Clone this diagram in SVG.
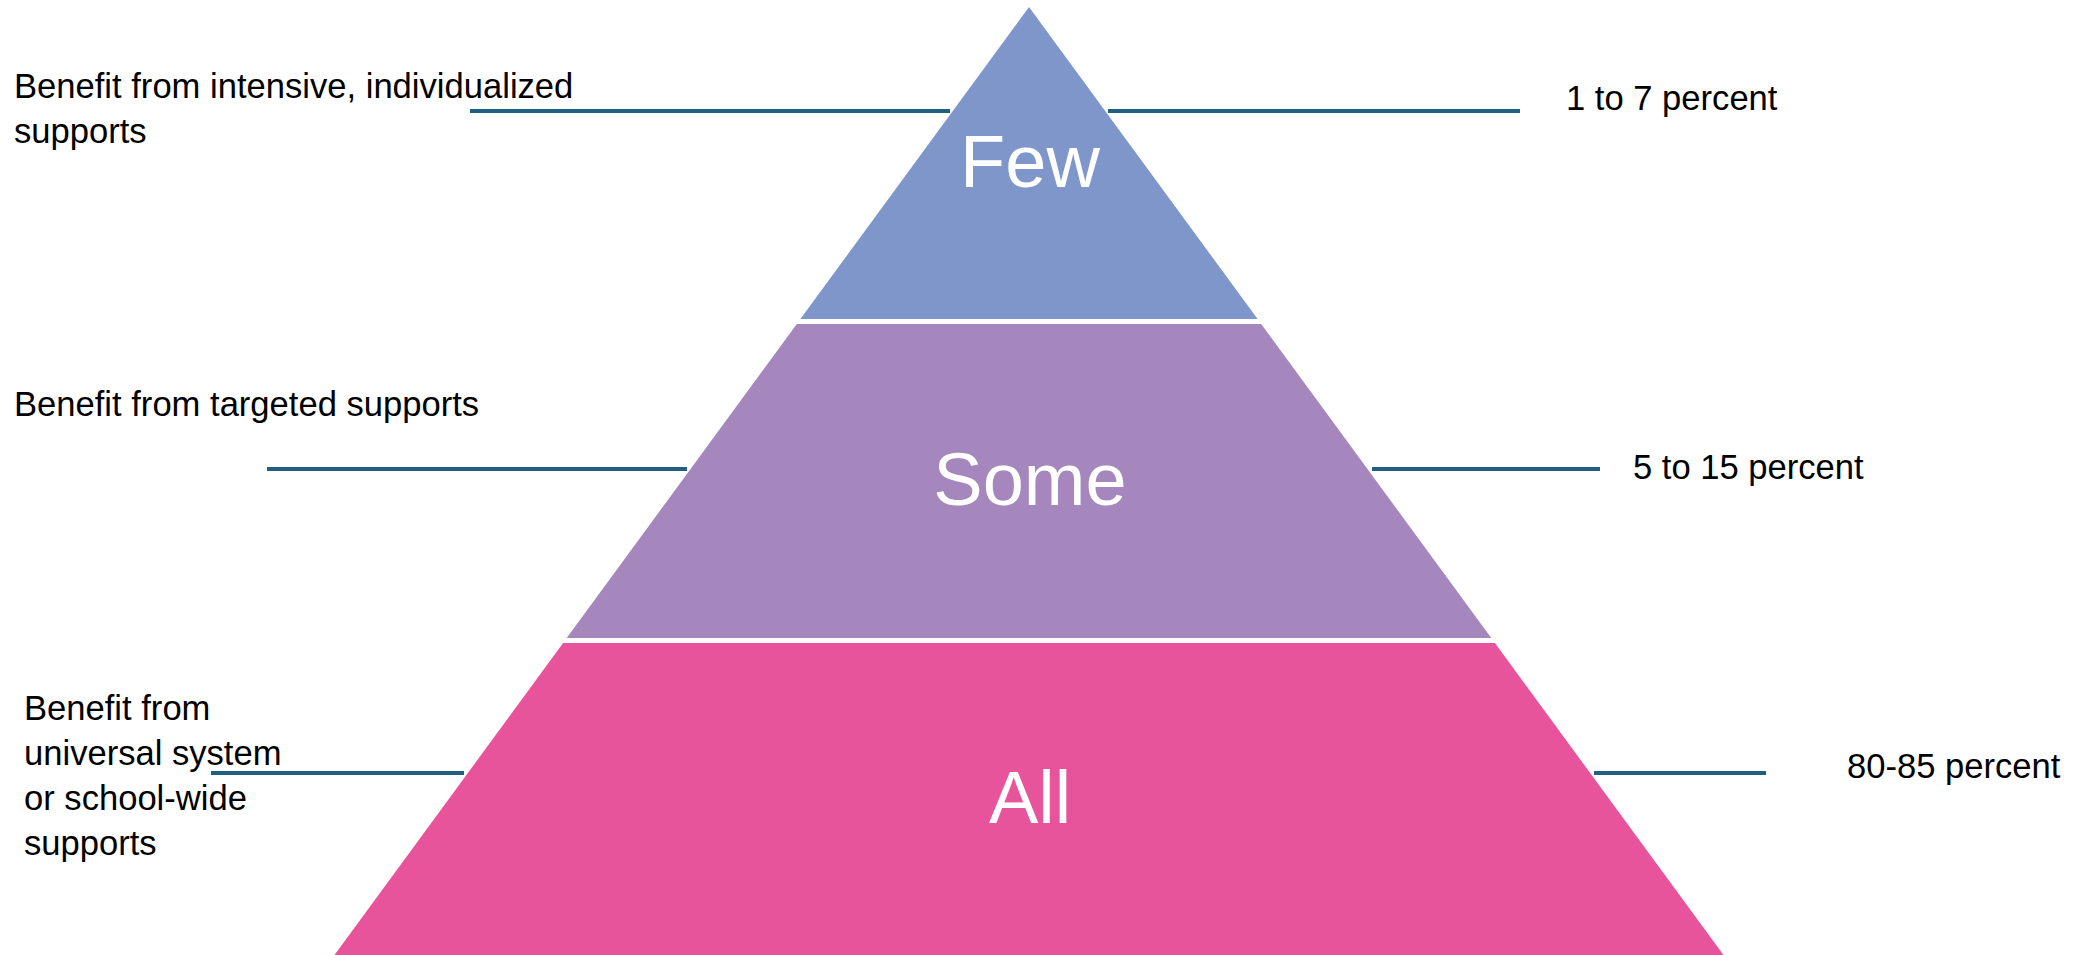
<svg xmlns="http://www.w3.org/2000/svg" width="2082" height="955" viewBox="0 0 2082 955">
<style>
.lbl{font-family:"Liberation Sans",Arial,sans-serif;font-size:34.6px;fill:#000}
.big{font-family:"Liberation Sans",Arial,sans-serif;font-size:74px;fill:#fff;text-anchor:middle}
.conn{stroke:#1F5F80;stroke-width:4;fill:none}
</style>
<rect width="2082" height="955" fill="#fff"/>
<g id="tier-few">
<polygon points="1029,7 1257.6,319 800.4,319" fill="#7F96CB"/>
<text class="big" x="1030" y="187">Few</text>
</g>
<g id="tier-some">
<polygon points="796.8,324 1261.2,324 1491.3,638 566.7,638" fill="#A587BD"/>
<text class="big" x="1030" y="505">Some</text>
</g>
<g id="tier-all">
<polygon points="563.1,643 1494.9,643 1723.5,955 334.5,955" fill="#E8549B"/>
<text class="big" x="1030" y="823">All</text>
</g>
<g id="connectors">
<line class="conn" x1="470" y1="111" x2="950" y2="111"/>
<line class="conn" x1="1108" y1="111" x2="1520" y2="111"/>
<line class="conn" x1="267" y1="469" x2="687" y2="469"/>
<line class="conn" x1="1372" y1="469" x2="1600" y2="469"/>
<line class="conn" x1="211" y1="773" x2="464" y2="773"/>
<line class="conn" x1="1594" y1="773" x2="1766" y2="773"/>
</g>
<g id="label-few-left">
<text class="lbl" x="14" y="98">Benefit from intensive, individualized</text>
<text class="lbl" x="14" y="143">supports</text>
</g>
<g id="label-few-right">
<text class="lbl" x="1566" y="110">1 to 7 percent</text>
</g>
<g id="label-some-left">
<text class="lbl" x="14" y="416">Benefit from targeted supports</text>
</g>
<g id="label-some-right">
<text class="lbl" x="1633" y="479">5 to 15 percent</text>
</g>
<g id="label-all-left">
<text class="lbl" x="24" y="720">Benefit from</text>
<text class="lbl" x="24" y="765">universal system</text>
<text class="lbl" x="24" y="810">or school-wide</text>
<text class="lbl" x="24" y="855">supports</text>
</g>
<g id="label-all-right">
<text class="lbl" x="1847" y="778">80-85 percent</text>
</g>
</svg>
